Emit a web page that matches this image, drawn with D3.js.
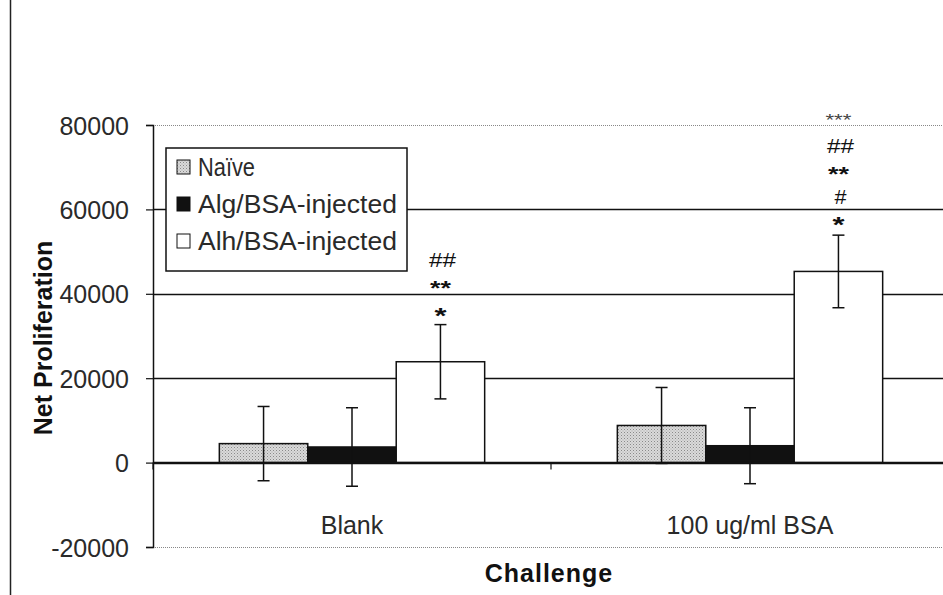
<!DOCTYPE html>
<html><head><meta charset="utf-8">
<script src="https://cdn.jsdelivr.net/npm/d3@7/dist/d3.min.js"></script>
<style>body{margin:0;background:#fff;} svg{display:block;font-family:"Liberation Sans",Arial,sans-serif;}</style>
</head><body><svg id="c" width="943" height="595"></svg>
<script>
const categories = ["Blank", "100 ug/ml BSA"];
const seriesNames = ["Naïve", "Alg/BSA-injected", "Alh/BSA-injected"];
const naive = [4500, 8800];
const naiveErr = [8800, 9000];
const alg = [3700, 4000];
const algErr = [9300, 9000];
const alh = [23900, 45300];
const alhErr = [8800, 8600];
const yTicks = [-20000, 0, 20000, 40000, 60000, 80000];
const annotations = [["*", "**", "##"], ["*", "#", "**", "##", "***"]];

const values = [naive, alg, alh];
const errs = [naiveErr, algErr, alhErr];
const fills = ["#cdcdcd", "#111111", "#ffffff"];

const svg = d3.select("#c");
const L = 153, R = 949, T = 125, B = 547;
const y = d3.scaleLinear().domain([-20000, 80000]).range([B, T]);
const x0 = d3.scaleBand().domain(categories).range([L, R]).paddingInner(0).paddingOuter(0);
const gapFrac = 1.5;
const barW = x0.bandwidth() / (3 + gapFrac);
const FONT = 25;

const defs = svg.append("defs");
const pat = defs.append("pattern").attr("id","dots").attr("width",3).attr("height",3).attr("patternUnits","userSpaceOnUse");
pat.append("rect").attr("width",3).attr("height",3).attr("fill","#dadada");
pat.append("rect").attr("width",1).attr("height",1).attr("fill","#8a8a8a");
pat.append("rect").attr("x",1.5).attr("y",1.5).attr("width",1).attr("height",1).attr("fill","#a8a8a8");

// outer left border
svg.append("line").attr("x1",10.5).attr("x2",10.5).attr("y1",0).attr("y2",595).attr("stroke","#222").attr("stroke-width",1.5);

// gridlines
yTicks.forEach(t => {
  const yy = Math.round(y(t)) + 0.5;
  const edge = (t === -20000 || t === 80000);
  svg.append("line").attr("x1",L).attr("x2",943).attr("y1",yy).attr("y2",yy)
    .attr("stroke", edge ? "#888" : "#111").attr("stroke-width",edge?1:1.5)
    .attr("stroke-dasharray", edge ? "1,1" : null);
});

// y axis
const yAxis = d3.axisLeft(y).tickValues(yTicks).tickSize(7).tickFormat(d => String(d));
const gy = svg.append("g").attr("transform",`translate(${L},0)`).call(yAxis);
gy.attr("font-size", FONT).attr("font-family", "Liberation Sans, Arial, sans-serif");
gy.select(".domain").attr("stroke","#111").attr("stroke-width",1.5);
gy.selectAll(".tick line").attr("stroke","#111").attr("stroke-width",1.2);
gy.selectAll(".tick text").attr("fill","#2a2a2a").attr("x",-24).attr("dy","0.36em");

// bars
categories.forEach((c, ci) => {
  const start = x0(c) + barW * gapFrac / 2;
  values.forEach((vals, si) => {
    const v = vals[ci];
    const bx = start + si * barW;
    svg.append("rect").attr("x", bx).attr("width", barW)
      .attr("y", y(Math.max(0, v))).attr("height", Math.abs(y(v) - y(0)))
      .attr("fill", si === 0 ? "url(#dots)" : fills[si])
      .attr("stroke", "#111").attr("stroke-width", 1.5);
  });
});

// zero axis line
svg.append("line").attr("x1",L).attr("x2",943).attr("y1",y(0)).attr("y2",y(0)).attr("stroke","#111").attr("stroke-width",1.5);
[L, L + x0.bandwidth()].forEach(px => {
  svg.append("line").attr("x1",px).attr("x2",px).attr("y1",y(0)).attr("y2",y(0)+7).attr("stroke","#111").attr("stroke-width",1.2);
});

// error bars
categories.forEach((c, ci) => {
  const start = x0(c) + barW * gapFrac / 2;
  values.forEach((vals, si) => {
    const v = vals[ci], e = errs[si][ci];
    const cx = start + si * barW + barW / 2;
    const g = svg.append("g").attr("stroke","#111").attr("stroke-width",1.5);
    g.append("line").attr("x1",cx).attr("x2",cx).attr("y1",y(v+e)).attr("y2",y(v-e));
    g.append("line").attr("x1",cx-6).attr("x2",cx+6).attr("y1",y(v+e)).attr("y2",y(v+e));
    g.append("line").attr("x1",cx-6).attr("x2",cx+6).attr("y1",y(v-e)).attr("y2",y(v-e));
  });
});

// significance marks (glyph-centre offsets above the error bar top)
const annOffsets = [[-14.6, -41.6, -64.6], [-16, -38, -66, -89, -118]];
const markStyle = {
  "*":   {size: 22, weight: "bold",   len: 12, centre: 0.58, fill: "#111"},
  "**":  {size: 21, weight: "bold",   len: 21, centre: 0.58, fill: "#111"},
  "***": {size: 16, weight: "normal", len: 26, centre: 0.58, fill: "#444"},
  "#":   {size: 20, weight: "normal", len: 12, centre: 0.35, fill: "#111"},
  "##":  {size: 20, weight: "normal", len: 27, centre: 0.35, fill: "#111"}
};
categories.forEach((c, ci) => {
  const start = x0(c) + barW * gapFrac / 2;
  const cx = start + 2 * barW + barW / 2;
  const top = y(alh[ci] + alhErr[ci]);
  annotations[ci].forEach((s, k) => {
    const st = markStyle[s];
    svg.append("text").attr("x", cx + (s.includes("#") ? 2 : 0))
      .attr("y", top + annOffsets[ci][k] + st.centre * st.size)
      .attr("text-anchor","middle").attr("font-size", st.size).attr("font-weight", st.weight)
      .attr("textLength", st.len).attr("lengthAdjust","spacingAndGlyphs")
      .attr("fill", st.fill).text(s);
  });
});

// category labels
categories.forEach(c => {
  svg.append("text").attr("x", x0(c) + x0.bandwidth()/2).attr("y", 534)
    .attr("text-anchor","middle").attr("font-size",FONT).attr("fill","#2a2a2a").text(c);
});

// axis titles
svg.append("text").attr("transform","translate(52,338) rotate(-90)").attr("text-anchor","middle")
  .attr("font-size",FONT).attr("font-weight","bold").attr("fill","#111").text("Net Proliferation");
svg.append("text").attr("x",549).attr("y",582).attr("text-anchor","middle")
  .attr("font-size",FONT).attr("font-weight","bold").attr("letter-spacing",1).attr("fill","#111").text("Challenge");

// legend
const lg = svg.append("g");
lg.append("rect").attr("x",166).attr("y",148).attr("width",241).attr("height",123)
  .attr("fill","#fff").attr("stroke","#111").attr("stroke-width",1.5);
const rowsY = [167, 204, 241];
const legendWidths = [57, 199, 199];
seriesNames.forEach((n, i) => {
  lg.append("rect").attr("x",177).attr("y",rowsY[i]-7).attr("width",13).attr("height",14)
    .attr("fill", i === 0 ? "url(#dots)" : fills[i]).attr("stroke","#111").attr("stroke-width",1);
  lg.append("text").attr("x",198).attr("y",rowsY[i]+9).attr("font-size",FONT).attr("fill","#2a2a2a")
    .attr("textLength", legendWidths[i]).attr("lengthAdjust","spacingAndGlyphs").text(n);
});
</script></body></html>
